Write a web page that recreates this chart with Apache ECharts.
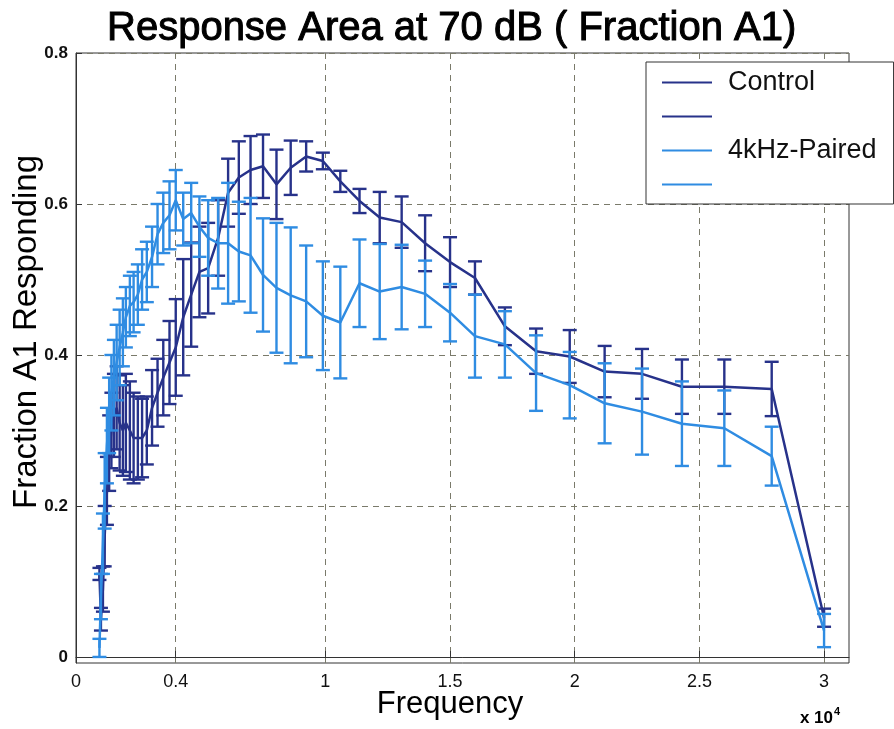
<!DOCTYPE html>
<html>
<head>
<meta charset="utf-8">
<title>Response Area at 70 dB ( Fraction A1)</title>
<script src="https://cdn.jsdelivr.net/npm/echarts@6/dist/echarts.min.js"></script>
<style>
  html, body { margin: 0; padding: 0; background: #fff; }
  #chart { width: 894px; height: 729px; }
</style>
</head>
<body>
<div id="chart"></div>
<script>
// Frequency in units of 10^4 Hz (about tenth-octave steps)
const frequencies = [
  0.094, 0.100, 0.108, 0.115, 0.124, 0.133, 0.142, 0.152, 0.163, 0.175,
  0.188, 0.200, 0.216, 0.231, 0.248, 0.265, 0.284, 0.305, 0.327, 0.350,
  0.375, 0.400, 0.430, 0.462, 0.495, 0.530, 0.570, 0.610, 0.653, 0.700,
  0.750, 0.804, 0.861, 0.923, 0.990, 1.060, 1.137, 1.218, 1.306, 1.400,
  1.500, 1.600, 1.720, 1.845, 1.980, 2.120, 2.270, 2.430, 2.600, 2.790,
  3.000
];

const controlMean = [
  0.11, 0.05, 0.09, 0.16, 0.22, 0.27, 0.30, 0.32, 0.33, 0.31,
  0.30, 0.31, 0.30, 0.29, 0.29, 0.29, 0.30, 0.33, 0.35, 0.37,
  0.39, 0.41, 0.45, 0.48, 0.51, 0.515, 0.555, 0.615, 0.635, 0.645,
  0.650, 0.626, 0.648, 0.663, 0.657, 0.630, 0.604, 0.582, 0.576, 0.548,
  0.523, 0.502, 0.438, 0.405, 0.398, 0.378, 0.375, 0.358, 0.358, 0.355,
  0.052
];
const controlErr = [
  0.008, 0.015, 0.03, 0.04, 0.045, 0.05, 0.05, 0.055, 0.055, 0.063,
  0.06, 0.065, 0.065, 0.06, 0.055, 0.052, 0.045, 0.05, 0.045, 0.05,
  0.055, 0.064, 0.077, 0.069, 0.06, 0.06, 0.05, 0.045, 0.048, 0.045,
  0.042, 0.046, 0.036, 0.02, 0.011, 0.014, 0.016, 0.034, 0.034, 0.037,
  0.033, 0.022, 0.025, 0.03, 0.035, 0.034, 0.033, 0.036, 0.036, 0.036,
  0.012
];

const pairedMean = [
  0.012, 0.08, 0.15, 0.22, 0.28, 0.32, 0.35, 0.37, 0.39, 0.41,
  0.43, 0.45, 0.465, 0.47, 0.48, 0.50, 0.51, 0.53, 0.56, 0.575,
  0.585, 0.605, 0.58, 0.588, 0.57, 0.555, 0.548, 0.548, 0.537, 0.532,
  0.506, 0.489, 0.479, 0.471, 0.452, 0.443, 0.495, 0.484, 0.49, 0.481,
  0.456, 0.425, 0.414, 0.376, 0.36, 0.336, 0.325, 0.309, 0.303, 0.266,
  0.035
];
const pairedErr = [
  0.012, 0.03, 0.04, 0.05, 0.05, 0.05, 0.05, 0.05, 0.05, 0.05,
  0.045, 0.04, 0.04, 0.04, 0.04, 0.04, 0.04, 0.04, 0.04, 0.04,
  0.045, 0.04, 0.035, 0.04, 0.04, 0.05, 0.06, 0.08, 0.066, 0.076,
  0.075, 0.086, 0.09, 0.074, 0.072, 0.074, 0.058, 0.063, 0.056, 0.044,
  0.038, 0.055, 0.044, 0.05, 0.044, 0.053, 0.057, 0.056, 0.05, 0.039,
  0.022
];

const xTicks = [0, 0.4, 1, 1.5, 2, 2.5, 3];
const yTicks = [0, 0.2, 0.4, 0.6, 0.8];

const FONT = "'Liberation Sans', Arial, Helvetica, sans-serif";
const CONTROL_COLOR = "#27328a";
const PAIRED_COLOR = "#2f8ce2";

function toPoints(means) {
  return frequencies.map((f, i) => [f, means[i]]);
}

function toBars(means, errs) {
  return frequencies.map((f, i) => [f, means[i], errs[i]]);
}

// vertical bar with caps, drawn through the axis scales
function renderErrorBar(params, api) {
  const x = api.value(0);
  const v = api.value(1);
  const e = api.value(2);
  const top = api.coord([x, v + e]);
  const bottom = api.coord([x, v - e]);
  const half = 7;
  const style = { stroke: api.visual("color"), lineWidth: 2.4 };
  return {
    type: "group",
    children: [
      { type: "line", shape: { x1: top[0], y1: top[1], x2: bottom[0], y2: bottom[1] }, style },
      { type: "line", shape: { x1: top[0] - half, y1: top[1], x2: top[0] + half, y2: top[1] }, style },
      { type: "line", shape: { x1: bottom[0] - half, y1: bottom[1], x2: bottom[0] + half, y2: bottom[1] }, style },
    ],
  };
}

const chart = echarts.init(document.getElementById("chart"));

const dashed = { color: "#7a7a6a", width: 1, type: [6, 5] };

const option = {
  animation: false,
  backgroundColor: "#fff",
  title: {
    text: "Response Area at 70 dB ( Fraction A1)",
    left: 107,
    top: 9,
    padding: 0,
    textStyle: {
      fontSize: 40,
      fontWeight: "normal",
      color: "#000",
      fontFamily: FONT,
      textBorderColor: "#000",
      textBorderWidth: 1,
    },
  },
  grid: {
    left: 76,
    right: 45,
    top: 53,
    bottom: 66,
    show: true,
    backgroundColor: "#fff",
    borderColor: "#333",
    borderWidth: 1,
  },
  legend: {
    orient: "vertical",
    left: 646,
    top: 62,
    data: ["Control", " ", "4kHz-Paired", "  "],
    icon: "rect",
    itemWidth: 50,
    itemHeight: 2,
    itemGap: 7,
    padding: [7, 17, 6, 16],
    backgroundColor: "#fff",
    borderColor: "#333",
    borderWidth: 1,
    selectedMode: false,
    textStyle: {
      fontSize: 27,
      lineHeight: 26,
      color: "#111",
      fontFamily: FONT,
      padding: [0, 0, 0, 11],
    },
  },
  xAxis: {
    type: "value",
    min: 0,
    max: 3.1,
    axisLine: { show: true, lineStyle: { color: "#333" } },
    axisTick: { show: true, inside: true, length: 6, customValues: xTicks, lineStyle: { color: "#333" } },
    axisLabel: {
      customValues: xTicks,
      formatter: (v) => String(v),
      fontSize: 18,
      color: "#111",
      fontFamily: FONT,
      margin: 10,
    },
    splitLine: { show: true, lineStyle: dashed },
  },
  yAxis: {
    type: "value",
    min: -0.008,
    max: 0.8,
    axisLine: { show: true, lineStyle: { color: "#333" } },
    axisTick: { show: true, inside: true, length: 6, customValues: yTicks, lineStyle: { color: "#333" } },
    axisLabel: {
      customValues: yTicks,
      formatter: (v) => (v === 0 ? "0" : v.toFixed(1)),
      fontSize: 17,
      fontWeight: "bold",
      color: "#111",
      fontFamily: FONT,
      margin: 8,
    },
    splitLine: { show: true, lineStyle: dashed },
  },
  graphic: [
    {
      type: "text",
      x: 27,
      y: 332,
      rotation: Math.PI / 2,
      style: {
        text: "Fraction A1 Responding",
        fontSize: 33,
        fontFamily: FONT,
        fill: "#000",
        align: "center",
        verticalAlign: "middle",
      },
    },
    {
      type: "text",
      x: 450,
      y: 704,
      style: {
        text: "Frequency",
        fontSize: 31,
        fontFamily: FONT,
        fill: "#000",
        align: "center",
        verticalAlign: "middle",
      },
    },
    {
      type: "text",
      x: 820,
      y: 718,
      style: {
        text: "{a|x 10}{b|4}",
        align: "center",
        verticalAlign: "middle",
        rich: {
          a: { fontSize: 17, fontWeight: "bold", fontFamily: FONT, fill: "#000" },
          b: { fontSize: 11, fontWeight: "bold", fontFamily: FONT, fill: "#000", padding: [0, 0, 12, 1] },
        },
      },
    },
  ],
  series: [
    {
      name: "Control",
      type: "line",
      data: toPoints(controlMean),
      symbol: "none",
      color: CONTROL_COLOR,
      lineStyle: { width: 2.5, color: CONTROL_COLOR },
      z: 2,
    },
    {
      name: " ",
      type: "custom",
      data: toBars(controlMean, controlErr),
      encode: { x: 0, y: 1 },
      itemStyle: { color: CONTROL_COLOR },
      renderItem: renderErrorBar,
      z: 2,
    },
    {
      name: "4kHz-Paired",
      type: "line",
      data: toPoints(pairedMean),
      symbol: "none",
      color: PAIRED_COLOR,
      lineStyle: { width: 2.5, color: PAIRED_COLOR },
      z: 3,
    },
    {
      name: "  ",
      type: "custom",
      data: toBars(pairedMean, pairedErr),
      encode: { x: 0, y: 1 },
      itemStyle: { color: PAIRED_COLOR },
      renderItem: renderErrorBar,
      z: 3,
    },
  ],
};

chart.setOption(option);
</script>
</body>
</html>
